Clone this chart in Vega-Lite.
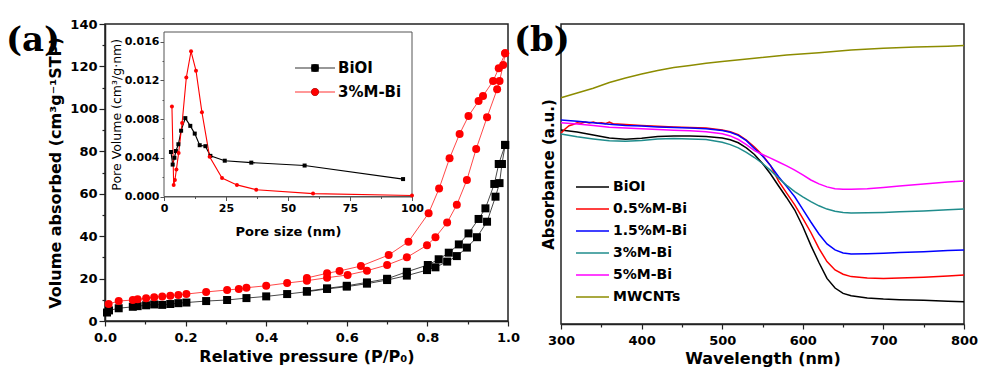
{
  "$schema": "https://vega.github.io/schema/vega-lite/v6.json",
  "background": "white",
  "padding": {"left": 5, "top": 17, "right": 0, "bottom": 0},
  "bounds": "flush",
  "spacing": 53,
  "config": {
    "font": "DejaVu Sans",
    "view": {"stroke": "#222222", "strokeWidth": 1.5},
    "axis": {
      "grid": false,
      "labelFont": "DejaVu Sans", "labelFontWeight": "bold", "labelFontSize": 13, "labelColor": "#000000",
      "titleFont": "DejaVu Sans", "titleFontWeight": "bold", "titleFontSize": 16, "titleColor": "#000000",
      "domainColor": "#222222", "domainWidth": 1.5, "tickColor": "#222222", "tickWidth": 1.2
    },
    "legend": {"padding": 0, "titlePadding": 0, "zindex": 2}
  },
  "resolve": {
    "scale": {"color": "independent", "stroke": "independent", "fill": "independent", "shape": "independent"},
    "legend": {"color": "independent", "stroke": "independent", "fill": "independent", "shape": "independent"}
  },
  "datasets": {
    "iso": [
      {"sample":"BiOI","branch":"ads","P":0.005,"V":4.0},{"sample":"BiOI","branch":"ads","P":0.010,"V":5.0},{"sample":"BiOI","branch":"ads","P":0.034,"V":6.0},{"sample":"BiOI","branch":"ads","P":0.069,"V":6.7},{"sample":"BiOI","branch":"ads","P":0.081,"V":7.0},{"sample":"BiOI","branch":"ads","P":0.102,"V":7.4},{"sample":"BiOI","branch":"ads","P":0.122,"V":7.8},{"sample":"BiOI","branch":"ads","P":0.142,"V":7.6},{"sample":"BiOI","branch":"ads","P":0.162,"V":8.0},{"sample":"BiOI","branch":"ads","P":0.182,"V":8.4},{"sample":"BiOI","branch":"ads","P":0.202,"V":8.7},{"sample":"BiOI","branch":"ads","P":0.251,"V":9.4},{"sample":"BiOI","branch":"ads","P":0.303,"V":9.9},{"sample":"BiOI","branch":"ads","P":0.351,"V":10.8},{"sample":"BiOI","branch":"ads","P":0.400,"V":11.6},{"sample":"BiOI","branch":"ads","P":0.452,"V":12.7},{"sample":"BiOI","branch":"ads","P":0.501,"V":13.8},{"sample":"BiOI","branch":"ads","P":0.551,"V":15.1},{"sample":"BiOI","branch":"ads","P":0.600,"V":16.2},{"sample":"BiOI","branch":"ads","P":0.650,"V":17.6},{"sample":"BiOI","branch":"ads","P":0.700,"V":19.3},{"sample":"BiOI","branch":"ads","P":0.749,"V":21.4},{"sample":"BiOI","branch":"ads","P":0.799,"V":24.0},{"sample":"BiOI","branch":"ads","P":0.820,"V":25.3},{"sample":"BiOI","branch":"ads","P":0.849,"V":28.0},{"sample":"BiOI","branch":"ads","P":0.873,"V":30.6},{"sample":"BiOI","branch":"ads","P":0.898,"V":34.6},{"sample":"BiOI","branch":"ads","P":0.923,"V":39.5},{"sample":"BiOI","branch":"ads","P":0.948,"V":46.8},{"sample":"BiOI","branch":"ads","P":0.969,"V":58.6},{"sample":"BiOI","branch":"ads","P":0.979,"V":65.0},{"sample":"BiOI","branch":"ads","P":0.985,"V":74.0},{"sample":"BiOI","branch":"ads","P":0.993,"V":83.0},
      {"sample":"BiOI","branch":"des","P":0.993,"V":83.0},{"sample":"BiOI","branch":"des","P":0.977,"V":74.0},{"sample":"BiOI","branch":"des","P":0.966,"V":64.6},{"sample":"BiOI","branch":"des","P":0.944,"V":53.1},{"sample":"BiOI","branch":"des","P":0.927,"V":48.1},{"sample":"BiOI","branch":"des","P":0.902,"V":41.3},{"sample":"BiOI","branch":"des","P":0.878,"V":36.1},{"sample":"BiOI","branch":"des","P":0.853,"V":32.2},{"sample":"BiOI","branch":"des","P":0.828,"V":29.1},{"sample":"BiOI","branch":"des","P":0.801,"V":26.4},{"sample":"BiOI","branch":"des","P":0.749,"V":23.2},{"sample":"BiOI","branch":"des","P":0.700,"V":19.9},{"sample":"BiOI","branch":"des","P":0.650,"V":18.2},{"sample":"BiOI","branch":"des","P":0.600,"V":16.6},{"sample":"BiOI","branch":"des","P":0.551,"V":15.4},{"sample":"BiOI","branch":"des","P":0.501,"V":14.1},
      {"sample":"3%M-Bi","branch":"ads","P":0.009,"V":8.0},{"sample":"3%M-Bi","branch":"ads","P":0.034,"V":9.4},{"sample":"3%M-Bi","branch":"ads","P":0.069,"V":9.9},{"sample":"3%M-Bi","branch":"ads","P":0.081,"V":10.2},{"sample":"3%M-Bi","branch":"ads","P":0.102,"V":10.7},{"sample":"3%M-Bi","branch":"ads","P":0.122,"V":11.2},{"sample":"3%M-Bi","branch":"ads","P":0.142,"V":11.5},{"sample":"3%M-Bi","branch":"ads","P":0.162,"V":11.9},{"sample":"3%M-Bi","branch":"ads","P":0.182,"V":12.3},{"sample":"3%M-Bi","branch":"ads","P":0.202,"V":12.7},{"sample":"3%M-Bi","branch":"ads","P":0.251,"V":13.7},{"sample":"3%M-Bi","branch":"ads","P":0.303,"V":14.6},{"sample":"3%M-Bi","branch":"ads","P":0.332,"V":15.1},{"sample":"3%M-Bi","branch":"ads","P":0.351,"V":15.7},{"sample":"3%M-Bi","branch":"ads","P":0.400,"V":16.6},{"sample":"3%M-Bi","branch":"ads","P":0.452,"V":17.9},{"sample":"3%M-Bi","branch":"ads","P":0.501,"V":19.0},{"sample":"3%M-Bi","branch":"ads","P":0.551,"V":20.4},{"sample":"3%M-Bi","branch":"ads","P":0.602,"V":21.7},{"sample":"3%M-Bi","branch":"ads","P":0.650,"V":23.7},{"sample":"3%M-Bi","branch":"ads","P":0.700,"V":26.4},{"sample":"3%M-Bi","branch":"ads","P":0.749,"V":30.0},{"sample":"3%M-Bi","branch":"ads","P":0.799,"V":35.7},{"sample":"3%M-Bi","branch":"ads","P":0.820,"V":39.5},{"sample":"3%M-Bi","branch":"ads","P":0.849,"V":46.4},{"sample":"3%M-Bi","branch":"ads","P":0.873,"V":54.8},{"sample":"3%M-Bi","branch":"ads","P":0.898,"V":66.5},{"sample":"3%M-Bi","branch":"ads","P":0.921,"V":81.1},{"sample":"3%M-Bi","branch":"ads","P":0.948,"V":96.0},{"sample":"3%M-Bi","branch":"ads","P":0.973,"V":109.2},{"sample":"3%M-Bi","branch":"ads","P":0.979,"V":113.1},{"sample":"3%M-Bi","branch":"ads","P":0.988,"V":120.7},{"sample":"3%M-Bi","branch":"ads","P":0.993,"V":126.2},
      {"sample":"3%M-Bi","branch":"des","P":0.993,"V":126.2},{"sample":"3%M-Bi","branch":"des","P":0.977,"V":119.1},{"sample":"3%M-Bi","branch":"des","P":0.963,"V":113.1},{"sample":"3%M-Bi","branch":"des","P":0.938,"V":106.1},{"sample":"3%M-Bi","branch":"des","P":0.927,"V":103.7},{"sample":"3%M-Bi","branch":"des","P":0.902,"V":96.6},{"sample":"3%M-Bi","branch":"des","P":0.880,"V":88.2},{"sample":"3%M-Bi","branch":"des","P":0.855,"V":76.7},{"sample":"3%M-Bi","branch":"des","P":0.829,"V":62.4},{"sample":"3%M-Bi","branch":"des","P":0.803,"V":50.8},{"sample":"3%M-Bi","branch":"des","P":0.753,"V":37.4},{"sample":"3%M-Bi","branch":"des","P":0.704,"V":31.1},{"sample":"3%M-Bi","branch":"des","P":0.635,"V":25.9},{"sample":"3%M-Bi","branch":"des","P":0.582,"V":23.6},{"sample":"3%M-Bi","branch":"des","P":0.551,"V":22.5},{"sample":"3%M-Bi","branch":"des","P":0.501,"V":20.3}
    ],
    "pore": [
      {"sample":"BiOI","size":2.8,"pv":0.0046},{"sample":"BiOI","size":3.5,"pv":0.0033},{"sample":"BiOI","size":4.2,"pv":0.0040},{"sample":"BiOI","size":4.8,"pv":0.0047},{"sample":"BiOI","size":5.8,"pv":0.0054},{"sample":"BiOI","size":6.9,"pv":0.0068},{"sample":"BiOI","size":8.6,"pv":0.0081},{"sample":"BiOI","size":10.6,"pv":0.0073},{"sample":"BiOI","size":12.4,"pv":0.0065},{"sample":"BiOI","size":14.4,"pv":0.0053},{"sample":"BiOI","size":16.7,"pv":0.0052},{"sample":"BiOI","size":18.7,"pv":0.0042},{"sample":"BiOI","size":24.5,"pv":0.0037},{"sample":"BiOI","size":35.2,"pv":0.0035},{"sample":"BiOI","size":56.7,"pv":0.0032},{"sample":"BiOI","size":96.4,"pv":0.0018},
      {"sample":"3%M-Bi","size":3.2,"pv":0.0093},{"sample":"3%M-Bi","size":3.9,"pv":0.0012},{"sample":"3%M-Bi","size":4.4,"pv":0.0017},{"sample":"3%M-Bi","size":5.0,"pv":0.0028},{"sample":"3%M-Bi","size":5.9,"pv":0.0045},{"sample":"3%M-Bi","size":7.3,"pv":0.0076},{"sample":"3%M-Bi","size":9.0,"pv":0.0123},{"sample":"3%M-Bi","size":10.9,"pv":0.0150},{"sample":"3%M-Bi","size":12.9,"pv":0.0130},{"sample":"3%M-Bi","size":15.3,"pv":0.0087},{"sample":"3%M-Bi","size":18.4,"pv":0.0041},{"sample":"3%M-Bi","size":23.4,"pv":0.0019},{"sample":"3%M-Bi","size":29.4,"pv":0.0012},{"sample":"3%M-Bi","size":37.2,"pv":0.0007},{"sample":"3%M-Bi","size":60.1,"pv":0.0003},{"sample":"3%M-Bi","size":100,"pv":0.0001}
    ],
    "insetbox": [
      {"size": 0, "size2": 100, "pv": 0, "pv2": 0.017}
    ],
    "uv": [
      {"sample":"BiOI","wl":300,"A":0.647},{"sample":"BiOI","wl":320,"A":0.640},{"sample":"BiOI","wl":340,"A":0.630},{"sample":"BiOI","wl":360,"A":0.620},{"sample":"BiOI","wl":380,"A":0.616},{"sample":"BiOI","wl":400,"A":0.619},{"sample":"BiOI","wl":420,"A":0.625},{"sample":"BiOI","wl":440,"A":0.627},{"sample":"BiOI","wl":460,"A":0.627},{"sample":"BiOI","wl":480,"A":0.625},{"sample":"BiOI","wl":500,"A":0.620},{"sample":"BiOI","wl":510,"A":0.614},{"sample":"BiOI","wl":520,"A":0.604},{"sample":"BiOI","wl":530,"A":0.587},{"sample":"BiOI","wl":540,"A":0.565},{"sample":"BiOI","wl":550,"A":0.535},{"sample":"BiOI","wl":560,"A":0.500},{"sample":"BiOI","wl":570,"A":0.460},{"sample":"BiOI","wl":580,"A":0.421},{"sample":"BiOI","wl":590,"A":0.380},{"sample":"BiOI","wl":600,"A":0.325},{"sample":"BiOI","wl":610,"A":0.262},{"sample":"BiOI","wl":620,"A":0.205},{"sample":"BiOI","wl":630,"A":0.152},{"sample":"BiOI","wl":640,"A":0.120},{"sample":"BiOI","wl":650,"A":0.102},{"sample":"BiOI","wl":660,"A":0.094},{"sample":"BiOI","wl":680,"A":0.087},{"sample":"BiOI","wl":700,"A":0.083},{"sample":"BiOI","wl":720,"A":0.081},{"sample":"BiOI","wl":750,"A":0.079},{"sample":"BiOI","wl":780,"A":0.076},{"sample":"BiOI","wl":800,"A":0.074},
      {"sample":"0.5%M-Bi","wl":300,"A":0.636},{"sample":"0.5%M-Bi","wl":305,"A":0.650},{"sample":"0.5%M-Bi","wl":310,"A":0.661},{"sample":"0.5%M-Bi","wl":315,"A":0.665},{"sample":"0.5%M-Bi","wl":320,"A":0.671},{"sample":"0.5%M-Bi","wl":325,"A":0.669},{"sample":"0.5%M-Bi","wl":330,"A":0.673},{"sample":"0.5%M-Bi","wl":335,"A":0.670},{"sample":"0.5%M-Bi","wl":340,"A":0.673},{"sample":"0.5%M-Bi","wl":345,"A":0.669},{"sample":"0.5%M-Bi","wl":350,"A":0.671},{"sample":"0.5%M-Bi","wl":355,"A":0.668},{"sample":"0.5%M-Bi","wl":360,"A":0.673},{"sample":"0.5%M-Bi","wl":365,"A":0.667},{"sample":"0.5%M-Bi","wl":370,"A":0.667},{"sample":"0.5%M-Bi","wl":380,"A":0.665},{"sample":"0.5%M-Bi","wl":400,"A":0.662},{"sample":"0.5%M-Bi","wl":420,"A":0.659},{"sample":"0.5%M-Bi","wl":440,"A":0.657},{"sample":"0.5%M-Bi","wl":460,"A":0.655},{"sample":"0.5%M-Bi","wl":480,"A":0.653},{"sample":"0.5%M-Bi","wl":500,"A":0.647},{"sample":"0.5%M-Bi","wl":510,"A":0.641},{"sample":"0.5%M-Bi","wl":520,"A":0.631},{"sample":"0.5%M-Bi","wl":530,"A":0.613},{"sample":"0.5%M-Bi","wl":540,"A":0.590},{"sample":"0.5%M-Bi","wl":550,"A":0.563},{"sample":"0.5%M-Bi","wl":560,"A":0.528},{"sample":"0.5%M-Bi","wl":570,"A":0.476},{"sample":"0.5%M-Bi","wl":580,"A":0.436},{"sample":"0.5%M-Bi","wl":590,"A":0.397},{"sample":"0.5%M-Bi","wl":600,"A":0.352},{"sample":"0.5%M-Bi","wl":610,"A":0.305},{"sample":"0.5%M-Bi","wl":620,"A":0.252},{"sample":"0.5%M-Bi","wl":630,"A":0.208},{"sample":"0.5%M-Bi","wl":640,"A":0.180},{"sample":"0.5%M-Bi","wl":650,"A":0.166},{"sample":"0.5%M-Bi","wl":660,"A":0.158},{"sample":"0.5%M-Bi","wl":680,"A":0.153},{"sample":"0.5%M-Bi","wl":700,"A":0.152},{"sample":"0.5%M-Bi","wl":720,"A":0.153},{"sample":"0.5%M-Bi","wl":750,"A":0.156},{"sample":"0.5%M-Bi","wl":780,"A":0.160},{"sample":"0.5%M-Bi","wl":800,"A":0.163},
      {"sample":"1.5%M-Bi","wl":300,"A":0.680},{"sample":"1.5%M-Bi","wl":320,"A":0.676},{"sample":"1.5%M-Bi","wl":340,"A":0.671},{"sample":"1.5%M-Bi","wl":360,"A":0.666},{"sample":"1.5%M-Bi","wl":380,"A":0.662},{"sample":"1.5%M-Bi","wl":400,"A":0.660},{"sample":"1.5%M-Bi","wl":420,"A":0.657},{"sample":"1.5%M-Bi","wl":440,"A":0.655},{"sample":"1.5%M-Bi","wl":460,"A":0.653},{"sample":"1.5%M-Bi","wl":480,"A":0.651},{"sample":"1.5%M-Bi","wl":500,"A":0.645},{"sample":"1.5%M-Bi","wl":510,"A":0.639},{"sample":"1.5%M-Bi","wl":520,"A":0.629},{"sample":"1.5%M-Bi","wl":530,"A":0.611},{"sample":"1.5%M-Bi","wl":540,"A":0.585},{"sample":"1.5%M-Bi","wl":550,"A":0.560},{"sample":"1.5%M-Bi","wl":560,"A":0.528},{"sample":"1.5%M-Bi","wl":570,"A":0.491},{"sample":"1.5%M-Bi","wl":580,"A":0.458},{"sample":"1.5%M-Bi","wl":590,"A":0.424},{"sample":"1.5%M-Bi","wl":600,"A":0.382},{"sample":"1.5%M-Bi","wl":610,"A":0.340},{"sample":"1.5%M-Bi","wl":620,"A":0.300},{"sample":"1.5%M-Bi","wl":630,"A":0.267},{"sample":"1.5%M-Bi","wl":640,"A":0.247},{"sample":"1.5%M-Bi","wl":650,"A":0.237},{"sample":"1.5%M-Bi","wl":660,"A":0.233},{"sample":"1.5%M-Bi","wl":680,"A":0.234},{"sample":"1.5%M-Bi","wl":700,"A":0.236},{"sample":"1.5%M-Bi","wl":720,"A":0.238},{"sample":"1.5%M-Bi","wl":750,"A":0.241},{"sample":"1.5%M-Bi","wl":780,"A":0.245},{"sample":"1.5%M-Bi","wl":800,"A":0.247},
      {"sample":"3%M-Bi","wl":300,"A":0.633},{"sample":"3%M-Bi","wl":320,"A":0.624},{"sample":"3%M-Bi","wl":340,"A":0.617},{"sample":"3%M-Bi","wl":360,"A":0.611},{"sample":"3%M-Bi","wl":380,"A":0.609},{"sample":"3%M-Bi","wl":400,"A":0.612},{"sample":"3%M-Bi","wl":420,"A":0.617},{"sample":"3%M-Bi","wl":440,"A":0.618},{"sample":"3%M-Bi","wl":460,"A":0.617},{"sample":"3%M-Bi","wl":480,"A":0.615},{"sample":"3%M-Bi","wl":500,"A":0.606},{"sample":"3%M-Bi","wl":510,"A":0.598},{"sample":"3%M-Bi","wl":520,"A":0.587},{"sample":"3%M-Bi","wl":530,"A":0.572},{"sample":"3%M-Bi","wl":540,"A":0.555},{"sample":"3%M-Bi","wl":550,"A":0.535},{"sample":"3%M-Bi","wl":560,"A":0.512},{"sample":"3%M-Bi","wl":570,"A":0.486},{"sample":"3%M-Bi","wl":580,"A":0.462},{"sample":"3%M-Bi","wl":590,"A":0.441},{"sample":"3%M-Bi","wl":600,"A":0.424},{"sample":"3%M-Bi","wl":610,"A":0.408},{"sample":"3%M-Bi","wl":620,"A":0.394},{"sample":"3%M-Bi","wl":630,"A":0.383},{"sample":"3%M-Bi","wl":640,"A":0.376},{"sample":"3%M-Bi","wl":650,"A":0.372},{"sample":"3%M-Bi","wl":660,"A":0.370},{"sample":"3%M-Bi","wl":680,"A":0.371},{"sample":"3%M-Bi","wl":700,"A":0.372},{"sample":"3%M-Bi","wl":720,"A":0.374},{"sample":"3%M-Bi","wl":750,"A":0.377},{"sample":"3%M-Bi","wl":780,"A":0.381},{"sample":"3%M-Bi","wl":800,"A":0.383},
      {"sample":"5%M-Bi","wl":300,"A":0.671},{"sample":"5%M-Bi","wl":320,"A":0.667},{"sample":"5%M-Bi","wl":340,"A":0.662},{"sample":"5%M-Bi","wl":360,"A":0.656},{"sample":"5%M-Bi","wl":380,"A":0.653},{"sample":"5%M-Bi","wl":400,"A":0.651},{"sample":"5%M-Bi","wl":420,"A":0.648},{"sample":"5%M-Bi","wl":440,"A":0.646},{"sample":"5%M-Bi","wl":460,"A":0.644},{"sample":"5%M-Bi","wl":480,"A":0.641},{"sample":"5%M-Bi","wl":500,"A":0.634},{"sample":"5%M-Bi","wl":510,"A":0.627},{"sample":"5%M-Bi","wl":520,"A":0.615},{"sample":"5%M-Bi","wl":530,"A":0.598},{"sample":"5%M-Bi","wl":540,"A":0.578},{"sample":"5%M-Bi","wl":550,"A":0.565},{"sample":"5%M-Bi","wl":560,"A":0.553},{"sample":"5%M-Bi","wl":570,"A":0.540},{"sample":"5%M-Bi","wl":580,"A":0.527},{"sample":"5%M-Bi","wl":590,"A":0.513},{"sample":"5%M-Bi","wl":600,"A":0.497},{"sample":"5%M-Bi","wl":610,"A":0.480},{"sample":"5%M-Bi","wl":620,"A":0.467},{"sample":"5%M-Bi","wl":630,"A":0.457},{"sample":"5%M-Bi","wl":640,"A":0.451},{"sample":"5%M-Bi","wl":650,"A":0.449},{"sample":"5%M-Bi","wl":660,"A":0.449},{"sample":"5%M-Bi","wl":680,"A":0.451},{"sample":"5%M-Bi","wl":700,"A":0.455},{"sample":"5%M-Bi","wl":720,"A":0.460},{"sample":"5%M-Bi","wl":750,"A":0.467},{"sample":"5%M-Bi","wl":780,"A":0.473},{"sample":"5%M-Bi","wl":800,"A":0.477},
      {"sample":"MWCNTs","wl":300,"A":0.754},{"sample":"MWCNTs","wl":320,"A":0.770},{"sample":"MWCNTs","wl":340,"A":0.786},{"sample":"MWCNTs","wl":360,"A":0.805},{"sample":"MWCNTs","wl":380,"A":0.820},{"sample":"MWCNTs","wl":400,"A":0.833},{"sample":"MWCNTs","wl":420,"A":0.845},{"sample":"MWCNTs","wl":440,"A":0.855},{"sample":"MWCNTs","wl":460,"A":0.862},{"sample":"MWCNTs","wl":480,"A":0.869},{"sample":"MWCNTs","wl":500,"A":0.875},{"sample":"MWCNTs","wl":540,"A":0.886},{"sample":"MWCNTs","wl":580,"A":0.897},{"sample":"MWCNTs","wl":620,"A":0.904},{"sample":"MWCNTs","wl":660,"A":0.913},{"sample":"MWCNTs","wl":700,"A":0.919},{"sample":"MWCNTs","wl":740,"A":0.923},{"sample":"MWCNTs","wl":780,"A":0.926},{"sample":"MWCNTs","wl":800,"A":0.928}
    ]
  },
  "hconcat": [
    {
      "width": 403,
      "height": 297,
      "title": {"text": "(a)", "anchor": "start", "frame": "group", "orient": "top", "font": "DejaVu Serif", "fontSize": 34, "fontWeight": "bold", "color": "#000000", "offset": -40, "dx": -99},
      "layer": [
        {
          "data": {"name": "iso"},
          "encoding": {
            "x": {"field": "P", "type": "quantitative", "scale": {"domain": [0, 1], "nice": false, "zero": false},
              "axis": {"title": "Relative pressure (P/P₀)", "values": [0,0.1,0.2,0.3,0.4,0.5,0.6,0.7,0.8,0.9,1.0], "labelExpr": "round(datum.value*10) % 2 === 0 ? format(datum.value, '.1f') : ''", "tickSize": {"condition": {"test": "round(datum.value*10) % 2 === 0", "value": 5}, "value": 3}, "labelPadding": 5, "titlePadding": 4, "labelFlush": false, "labelOverlap": false}},
            "y": {"field": "V", "type": "quantitative", "scale": {"domain": [0, 140], "nice": false},
              "axis": {"title": "Volume absorbed (cm³g⁻¹STP)", "values": [0,10,20,30,40,50,60,70,80,90,100,110,120,130,140], "labelExpr": "datum.value % 20 === 0 ? datum.label : ''", "tickSize": {"condition": {"test": "datum.value % 20 === 0", "value": 6}, "value": 3}, "labelPadding": 2, "titlePadding": 6, "labelOverlap": false}}
          },
          "layer": [
            {"mark": {"type": "line", "strokeWidth": 0.9, "opacity": 0.8},
             "encoding": {"stroke": {"field": "sample", "type": "nominal", "scale": {"domain": ["BiOI", "3%M-Bi"], "range": ["#000000", "#ff0000"]}}, "detail": {"field": "branch"}}},
            {"mark": {"type": "point", "filled": true, "opacity": 1, "size": 64},
             "encoding": {
               "fill": {"field": "sample", "type": "nominal", "sort": ["BiOI", "3%M-Bi"], "scale": {"range": ["#000000", "#ff0000"]}},
               "shape": {"field": "sample", "type": "nominal", "sort": ["BiOI", "3%M-Bi"], "scale": {"range": ["square", "circle"]}}}}
          ]
        },
        {
          "encoding": {
            "x": {"field": "size", "type": "quantitative", "scale": {"domain": [0, 100], "range": [59, 307], "nice": false, "zero": false},
              "axis": {"orient": "bottom", "offset": -124.5, "title": "Pore size (nm)", "titleFontSize": 13, "labelFontSize": 11, "values": [0,12.5,25,37.5,50,62.5,75,87.5,100], "labelExpr": "datum.value % 25 === 0 ? datum.label : ''", "tickSize": {"condition": {"test": "datum.value % 25 === 0", "value": 4}, "value": 2}, "domainWidth": 1, "tickWidth": 1, "domainColor": "#555555", "tickColor": "#555555", "labelPadding": 2, "titlePadding": 12, "labelOverlap": false, "labelFlush": false}},
            "y": {"field": "pv", "type": "quantitative", "scale": {"domain": [0, 0.017], "range": [172.5, 8], "nice": false, "zero": false},
              "axis": {"orient": "left", "offset": -59, "title": "Pore Volume (cm³/g·nm)", "titleFontSize": 12.5, "titleFontWeight": "normal", "labelFontSize": 11, "values": [0,0.002,0.004,0.006,0.008,0.010,0.012,0.014,0.016], "labelExpr": "round(datum.value*1000) % 4 === 0 ? format(datum.value, '.3f') : ''", "tickSize": {"condition": {"test": "round(datum.value*1000) % 4 === 0", "value": 4}, "value": 2}, "domainWidth": 1, "tickWidth": 1, "domainColor": "#555555", "tickColor": "#555555", "labelPadding": 1, "titlePadding": 1, "labelOverlap": false}}
          },
          "layer": [
            {"data": {"name": "insetbox"}, "mark": {"type": "rect", "fill": "#ffffff", "stroke": "#555555", "strokeWidth": 1},
             "encoding": {"x2": {"field": "size2"}, "y2": {"field": "pv2"}}},
            {"data": {"name": "pore"}, "mark": {"type": "line", "strokeWidth": 1.1},
             "encoding": {"stroke": {"field": "sample", "type": "nominal", "scale": {"domain": ["BiOI", "3%M-Bi"], "range": ["#000000", "#ff0000"]},
               "legend": {"orient": "none", "legendX": 189, "legendY": 36, "zindex": 3, "title": null, "symbolType": "stroke", "symbolSize": 1600, "symbolStrokeWidth": 1.2, "clipHeight": 16, "rowPadding": 8, "labelFont": "DejaVu Sans", "labelFontSize": 15, "labelFontWeight": "bold", "labelColor": "#000000", "labelOffset": 2, "padding": 0}}}},
            {"data": {"name": "pore"}, "mark": {"type": "point", "filled": true, "opacity": 1, "size": 16},
             "encoding": {
               "fill": {"field": "sample", "type": "nominal", "sort": ["BiOI", "3%M-Bi"], "scale": {"range": ["#000000", "#ff0000"]},
                 "legend": {"orient": "none", "legendX": 202.5, "legendY": 36, "zindex": 4, "title": null, "symbolSize": 55, "symbolStrokeWidth": 0, "clipHeight": 16, "rowPadding": 8, "labelFontSize": 15, "labelExpr": "''", "padding": 0}},
               "shape": {"field": "sample", "type": "nominal", "sort": ["BiOI", "3%M-Bi"], "scale": {"range": ["square", "circle"]},
                 "legend": {"orient": "none", "legendX": 202.5, "legendY": 36, "zindex": 4, "title": null, "symbolSize": 55, "symbolStrokeWidth": 0, "clipHeight": 16, "rowPadding": 8, "labelFontSize": 15, "labelExpr": "''", "padding": 0}}}}
          ]
        }
      ],
      "resolve": {"scale": {"x": "independent", "y": "independent"}, "axis": {"x": "independent", "y": "independent"}}
    },
    {
      "width": 403,
      "height": 300,
      "title": {"text": "(b)", "anchor": "start", "frame": "group", "orient": "top", "font": "DejaVu Serif", "fontSize": 34, "fontWeight": "bold", "color": "#000000", "offset": -34, "dx": -47},
      "data": {"name": "uv"},
      "mark": {"type": "line", "strokeWidth": 1.5},
      "encoding": {
        "x": {"field": "wl", "type": "quantitative", "scale": {"domain": [300, 800], "nice": false, "zero": false},
          "axis": {"title": "Wavelength (nm)", "values": [300,350,400,450,500,550,600,650,700,750,800], "labelExpr": "datum.value % 100 === 0 ? datum.label : ''", "tickSize": {"condition": {"test": "datum.value % 100 === 0", "value": 5}, "value": 3}, "labelPadding": 5, "titlePadding": 3, "labelFlush": false, "labelOverlap": false}},
        "y": {"field": "A", "type": "quantitative", "scale": {"domain": [0, 1], "nice": false},
          "axis": {"title": "Absorbance (a.u.)", "labels": false, "ticks": false, "domain": false, "titlePadding": 5, "titleFontSize": 15}},
        "color": {"field": "sample", "type": "nominal",
          "scale": {"domain": ["BiOI", "0.5%M-Bi", "1.5%M-Bi", "3%M-Bi", "5%M-Bi", "MWCNTs"], "range": ["#000000", "#ff0000", "#0000ff", "#1f8c8c", "#ff00ff", "#8c8c00"]},
          "legend": {"orient": "none", "legendX": 14, "legendY": 156, "zindex": 3, "title": null, "symbolType": "stroke", "symbolSize": 1089, "symbolStrokeWidth": 1.5, "clipHeight": 14, "rowPadding": 8, "labelFont": "DejaVu Sans", "labelFontSize": 14, "labelFontWeight": "bold", "labelColor": "#000000", "labelOffset": 3, "padding": 0}}
      }
    }
  ]
}
